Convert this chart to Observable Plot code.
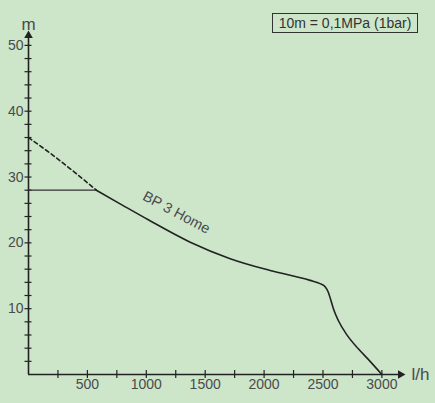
<!DOCTYPE html>
<html>
<head>
<meta charset="utf-8">
<script src="https://cdn.jsdelivr.net/npm/d3@7"></script>
<script src="https://cdn.jsdelivr.net/npm/@observablehq/plot@0.6"></script>
<style>
  html, body { margin: 0; padding: 0; background: #cde6ca; }
  #wrap { position: relative; width: 435px; height: 403px; }
  #note { position: absolute; left: 272px; top: 13px; width: 144px; height: 18px;
          border: 1px solid #333; font: 14px "Liberation Sans", Arial, sans-serif;
          color: #333; text-align: center; line-height: 18px; }
</style>
</head>
<body>
<div id="wrap"><div id="note">10m = 0,1MPa (1bar)</div></div>
<script>
// Pump curve BP 3 Home: flow (l/h) vs head (m)
const solidFlow = [576, 800, 1017, 1373, 1712, 2051, 2390, 2475, 2520, 2545, 2565, 2590, 2630, 2700, 2800, 2900, 3000];
const solidHead = [28, 25.7, 23.5, 20.1, 17.6, 15.8, 14.3, 13.8, 13.3, 12.5, 11.4, 9.9, 8.2, 6.1, 3.9, 2.0, 0];
const dashFlow = [0, 200, 400, 576];
const dashHead = [36, 33.4, 30.6, 28];
const refFlow = [0, 576];
const refHead = [28, 28];
const xMajor = [500, 1000, 1500, 2000, 2500, 3000];
const xMinor = [250, 500, 750, 1000, 1250, 1500, 1750, 2000, 2250, 2500, 2750, 3000];
const yMajor = [10, 20, 30, 40, 50];
const yMinor = [2,4,6,8,10,12,14,16,18,20,22,24,26,28,30,32,34,36,38,40,42,44,46,48,50];
const xMax = 3158, yMax = 51.5;

const solid = solidFlow.map((x, i) => ({x, y: solidHead[i]}));
const dashed = dashFlow.map((x, i) => ({x, y: dashHead[i]}));
const ref = refFlow.map((x, i) => ({x, y: refHead[i]}));

const ink = "#222";
const txt = "#4a4a4a";

const chart = Plot.plot({
  width: 435, height: 403,
  marginLeft: 28, marginRight: 35, marginTop: 35, marginBottom: 29,
  style: { background: "transparent", fontFamily: "'Liberation Sans', Arial, sans-serif", color: txt },
  x: { domain: [0, xMax], axis: null },
  y: { domain: [0, yMax], axis: null },
  marks: [
    Plot.axisY({ ticks: yMajor, tickSize: 0, tickPadding: 5, fontSize: 14, label: null, fill: txt, tickFormat: d3.format("d") }),
    Plot.axisY({ ticks: yMinor, tickSize: 7, dx: 3.5, tickFormat: () => "", label: null, stroke: ink, strokeWidth: 1.2 }),
    Plot.axisX({ ticks: xMajor, tickSize: 0, tickPadding: 5, fontSize: 14, label: null, fill: txt, tickFormat: d3.format("d") }),
    Plot.axisX({ ticks: xMinor, tickSize: 8, dy: -4, tickFormat: () => "", label: null, stroke: ink, strokeWidth: 1.2 }),
    Plot.ruleX([0], { y1: 0, y2: yMax, stroke: ink, strokeWidth: 1.6 }),
    Plot.ruleY([0], { x1: 0, x2: xMax, stroke: ink, strokeWidth: 1.6 }),
    Plot.dot([{x: 0, y: yMax}], { x: "x", y: "y", symbol: "triangle", r: 3.2, fill: ink, stroke: null }),
    Plot.dot([{x: xMax, y: 0}], { x: "x", y: "y", symbol: "triangle", r: 3.2, fill: ink, stroke: null, rotate: 90 }),
    Plot.line(ref, { x: "x", y: "y", stroke: "#333", strokeWidth: 1.2 }),
    Plot.line(dashed, { x: "x", y: "y", stroke: ink, strokeWidth: 1.6, strokeDasharray: "4,3", curve: "monotone-x" }),
    Plot.line(solid, { x: "x", y: "y", stroke: ink, strokeWidth: 1.6, curve: "monotone-x" }),
    Plot.text(["BP 3 Home"], { x: 1256, y: 24.6, rotate: 28, fontSize: 14.5, fill: txt }),
    Plot.text(["m"], { x: 0, y: yMax, dy: -11, fontSize: 17, fill: txt }),
    Plot.text(["l/h"], { x: xMax, y: 0, dx: 20, fontSize: 17, fill: txt })
  ]
});
document.getElementById("wrap").prepend(chart);
</script>
</body>
</html>
